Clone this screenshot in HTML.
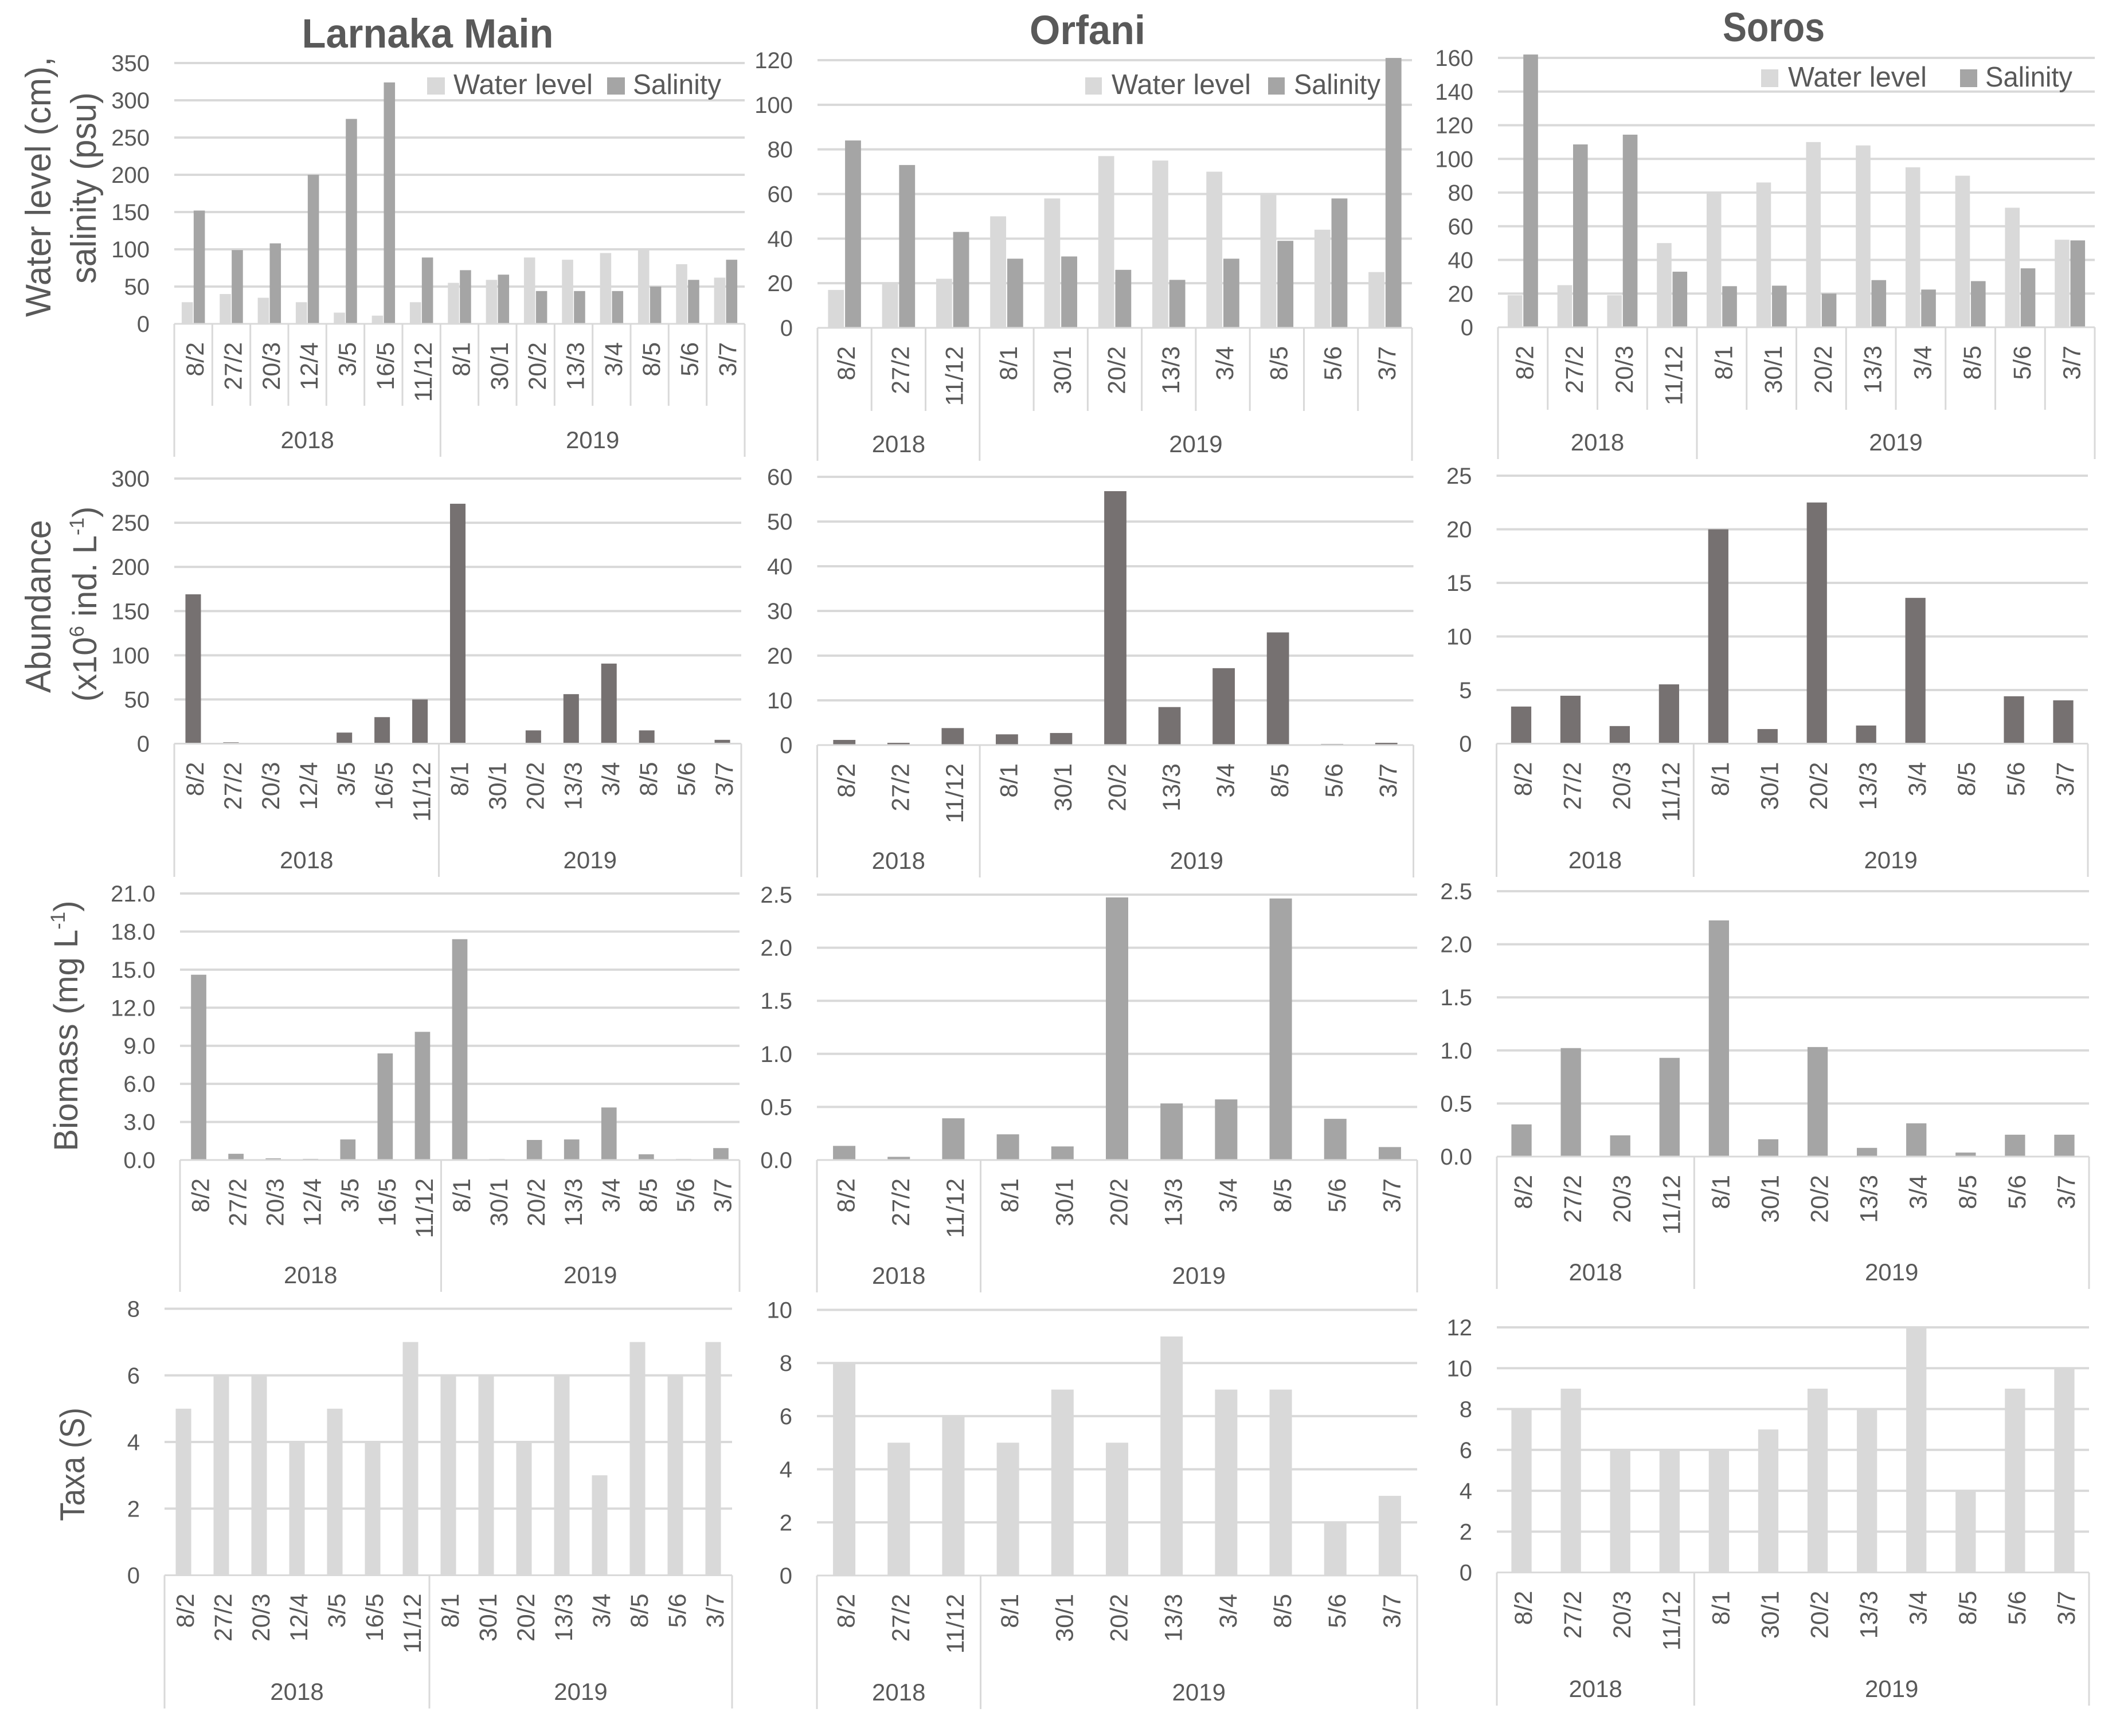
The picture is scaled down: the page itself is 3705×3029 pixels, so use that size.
<!DOCTYPE html>
<html lang="en">
<head>
<meta charset="utf-8">
<title>Larnaka Main, Orfani and Soros time series</title>
<style>
html,body{margin:0;padding:0;background:#fff;}
svg{display:block;}
text{font-family:"Liberation Sans",sans-serif;fill:#595959;}
.panel-title{font-weight:bold;font-size:71px;text-anchor:middle;}
.axis-title{font-size:62px;text-anchor:middle;}
.legend-label{font-size:49px;}
.tick{font-size:40px;text-anchor:end;}
.cat{font-size:43px;text-anchor:end;}
.year{font-size:42px;text-anchor:middle;}
</style>
</head>
<body>
<svg id="chart" xmlns="http://www.w3.org/2000/svg" width="3705" height="3029" viewBox="0 0 3705 3029">
  <rect x="0" y="0" width="3705" height="3029" fill="#ffffff"/>

  <text class="panel-title" x="746" y="83" textLength="439" lengthAdjust="spacingAndGlyphs">Larnaka Main</text>
  <text class="panel-title" x="1897" y="77" textLength="202" lengthAdjust="spacingAndGlyphs">Orfani</text>
  <text class="panel-title" x="3094" y="72" textLength="178" lengthAdjust="spacingAndGlyphs">Soros</text>

  <text class="axis-title" transform="translate(88 326) rotate(-90)" textLength="454" lengthAdjust="spacingAndGlyphs">Water level (cm),</text>
  <text class="axis-title" transform="translate(167 328) rotate(-90)" textLength="334" lengthAdjust="spacingAndGlyphs">salinity (psu)</text>
  <text class="axis-title" transform="translate(88 1058) rotate(-90)" textLength="302" lengthAdjust="spacingAndGlyphs">Abundance</text>
  <text class="axis-title" transform="translate(168 1054) rotate(-90)" style="font-size:58px">(x10<tspan font-size="35" dy="-22">6</tspan><tspan dy="22"> ind. L</tspan><tspan font-size="35" dy="-22">-1</tspan><tspan dy="22">)</tspan></text>
  <text class="axis-title" transform="translate(135 1790) rotate(-90)" style="font-size:58px">Biomass (mg L<tspan font-size="35" dy="-22">-1</tspan><tspan dy="22">)</tspan></text>
  <text class="axis-title" transform="translate(147 2555) rotate(-90)" style="font-size:60px" textLength="198" lengthAdjust="spacingAndGlyphs">Taxa (S)</text>

  <g id="panels"></g>

  <g>
    <rect x="745" y="135" width="31" height="30" fill="#D9D9D9"/>
    <text class="legend-label" x="791" y="164" textLength="243" lengthAdjust="spacingAndGlyphs">Water level</text>
    <rect x="1059" y="135" width="31" height="30" fill="#A5A5A5"/>
    <text class="legend-label" x="1104" y="164" textLength="154" lengthAdjust="spacingAndGlyphs">Salinity</text>
  </g>
  <g>
    <rect x="1893" y="135" width="29" height="30" fill="#D9D9D9"/>
    <text class="legend-label" x="1939" y="164" textLength="243" lengthAdjust="spacingAndGlyphs">Water level</text>
    <rect x="2212" y="135" width="29" height="30" fill="#A5A5A5"/>
    <text class="legend-label" x="2257" y="164" textLength="151" lengthAdjust="spacingAndGlyphs">Salinity</text>
  </g>
  <g>
    <rect x="3072" y="121" width="30" height="31" fill="#D9D9D9"/>
    <text class="legend-label" x="3119" y="151" textLength="242" lengthAdjust="spacingAndGlyphs">Water level</text>
    <rect x="3419" y="121" width="30" height="31" fill="#A5A5A5"/>
    <text class="legend-label" x="3463" y="151" textLength="152" lengthAdjust="spacingAndGlyphs">Salinity</text>
  </g>
</svg>

<script>
// ---------- Categories ----------
const catsLarnaka2018 = ['8/2','27/2','20/3','12/4','3/5','16/5','11/12'];
const catsLarnaka2019 = ['8/1','30/1','20/2','13/3','3/4','8/5','5/6','3/7'];
const catsOrfani2018 = ['8/2','27/2','11/12'];
const catsOrfani2019 = ['8/1','30/1','20/2','13/3','3/4','8/5','5/6','3/7'];
const catsSoros2018 = ['8/2','27/2','20/3','11/12'];
const catsSoros2019 = ['8/1','30/1','20/2','13/3','3/4','8/5','5/6','3/7'];

// ---------- Series values ----------
const waterLarnaka = [29,40,35,29,15,11,29,55,59,89,86,95,100,80,62];
const salinityLarnaka = [152,99,108,200,275,324,89,72,66,44,44,44,50,59,86];
const waterOrfani = [17,20,22,50,58,77,75,70,60,44,25];
const salinityOrfani = [84,73,43,31,32,26,21.5,31,39,58,121];
const waterSoros = [19,25,19,50,80.5,86,110,108,95,90,71,52];
const salinitySoros = [162,108.6,114.4,33,24.4,24.7,20,28,22.4,27.4,35,51.6];

const abundanceLarnaka = [169,1.5,0,0,12.5,30,50,271.5,0,15,56,90.6,15,0,4.3];
const abundanceOrfani = [1.15,0.5,3.8,2.4,2.7,56.8,8.5,17.2,25.2,0.25,0.5];
const abundanceSoros = [3.46,4.47,1.64,5.53,20,1.36,22.5,1.69,13.6,0,4.42,4.04];

const biomassLarnaka = [14.6,0.49,0.13,0.09,1.62,8.4,10.1,17.4,0.08,1.58,1.62,4.14,0.45,0.08,0.94];
const biomassOrfani = [0.133,0.03,0.393,0.242,0.128,2.474,0.533,0.571,2.464,0.388,0.122];
const biomassSoros = [0.303,1.022,0.2,0.93,2.225,0.163,1.032,0.082,0.313,0.038,0.206,0.206];

const taxaLarnaka = [5,6,6,4,5,4,7,6,6,4,6,3,7,6,7];
const taxaOrfani = [8,5,6,5,7,5,9,7,7,2,3];
const taxaSoros = [8,9,6,6,6,7,9,8,12,4,9,10];

// ---------- Tick labels ----------
const ticksWaterLarnaka = ['0','50','100','150','200','250','300','350'];
const ticksWaterOrfani = ['0','20','40','60','80','100','120'];
const ticksWaterSoros = ['0','20','40','60','80','100','120','140','160'];
const ticksAbundanceLarnaka = ['0','50','100','150','200','250','300'];
const ticksAbundanceOrfani = ['0','10','20','30','40','50','60'];
const ticksAbundanceSoros = ['0','5','10','15','20','25'];
const ticksBiomassLarnaka = ['0.0','3.0','6.0','9.0','12.0','15.0','18.0','21.0'];
const ticksBiomassOrfani = ['0.0','0.5','1.0','1.5','2.0','2.5'];
const ticksBiomassSoros = ['0.0','0.5','1.0','1.5','2.0','2.5'];
const ticksTaxaLarnaka = ['0','2','4','6','8'];
const ticksTaxaOrfani = ['0','2','4','6','8','10'];
const ticksTaxaSoros = ['0','2','4','6','8','10','12'];

const yearLabels = ['2018','2019'];

// ---------- Panel definitions (frame = pixel box of the plot area) ----------
const COLOR_WATER = '#D9D9D9', COLOR_SAL = '#A5A5A5', COLOR_AB = '#767171', COLOR_BIO = '#A5A5A5', COLOR_TAXA = '#D9D9D9';

const panels = [
 {id:'water-larnaka', a:catsLarnaka2018, b:catsLarnaka2019, ticks:ticksWaterLarnaka,
  series:[{name:'water-level',values:waterLarnaka,color:COLOR_WATER},{name:'salinity',values:salinityLarnaka,color:COLOR_SAL}],
  frame:{left:304,right:1299,top:110,zero:565,sep:708,bottom:797}},
 {id:'water-orfani', a:catsOrfani2018, b:catsOrfani2019, ticks:ticksWaterOrfani,
  series:[{name:'water-level',values:waterOrfani,color:COLOR_WATER},{name:'salinity',values:salinityOrfani,color:COLOR_SAL}],
  frame:{left:1426,right:2463,top:105,zero:572,sep:717,bottom:804}},
 {id:'water-soros', a:catsSoros2018, b:catsSoros2019, ticks:ticksWaterSoros,
  series:[{name:'water-level',values:waterSoros,color:COLOR_WATER},{name:'salinity',values:salinitySoros,color:COLOR_SAL}],
  frame:{left:2613,right:3654,top:101,zero:571,sep:715,bottom:801}},

 {id:'abundance-larnaka', a:catsLarnaka2018, b:catsLarnaka2019, ticks:ticksAbundanceLarnaka,
  series:[{name:'abundance',values:abundanceLarnaka,color:COLOR_AB}],
  frame:{left:304,right:1293,top:835,zero:1297.5,bottom:1530}},
 {id:'abundance-orfani', a:catsOrfani2018, b:catsOrfani2019, ticks:ticksAbundanceOrfani,
  series:[{name:'abundance',values:abundanceOrfani,color:COLOR_AB}],
  frame:{left:1425.5,right:2465.5,top:832,zero:1300,bottom:1531}},
 {id:'abundance-soros', a:catsSoros2018, b:catsSoros2019, ticks:ticksAbundanceSoros,
  series:[{name:'abundance',values:abundanceSoros,color:COLOR_AB}],
  frame:{left:2610.5,right:3642,top:830,zero:1297.5,bottom:1530}},

 {id:'biomass-larnaka', a:catsLarnaka2018, b:catsLarnaka2019, ticks:ticksBiomassLarnaka,
  series:[{name:'biomass',values:biomassLarnaka,color:COLOR_BIO}],
  frame:{left:314,right:1290,top:1559,zero:2024,bottom:2254}},
 {id:'biomass-orfani', a:catsOrfani2018, b:catsOrfani2019, ticks:ticksBiomassOrfani,
  series:[{name:'biomass',values:biomassOrfani,color:COLOR_BIO}],
  frame:{left:1425,right:2472,top:1561,zero:2024,bottom:2255}},
 {id:'biomass-soros', a:catsSoros2018, b:catsSoros2019, ticks:ticksBiomassSoros,
  series:[{name:'biomass',values:biomassSoros,color:COLOR_BIO}],
  frame:{left:2611,right:3644,top:1555,zero:2018,bottom:2249}},

 {id:'taxa-larnaka', a:catsLarnaka2018, b:catsLarnaka2019, ticks:ticksTaxaLarnaka,
  series:[{name:'taxa',values:taxaLarnaka,color:COLOR_TAXA}],
  frame:{left:287,right:1277,top:2283.5,zero:2748.5,bottom:2981}},
 {id:'taxa-orfani', a:catsOrfani2018, b:catsOrfani2019, ticks:ticksTaxaOrfani,
  series:[{name:'taxa',values:taxaOrfani,color:COLOR_TAXA}],
  frame:{left:1425,right:2472,top:2285.5,zero:2749,bottom:2982}},
 {id:'taxa-soros', a:catsSoros2018, b:catsSoros2019, ticks:ticksTaxaSoros,
  series:[{name:'taxa',values:taxaSoros,color:COLOR_TAXA}],
  frame:{left:2611,right:3644,top:2316,zero:2743.6,bottom:2976}}
];

const SVGNS = 'http://www.w3.org/2000/svg';
const GRID = '#D9D9D9';
const root = document.getElementById('panels');

function line(parent, x1, y1, x2, y2, w) {
  const l = document.createElementNS(SVGNS, 'line');
  l.setAttribute('x1', x1);
  l.setAttribute('y1', y1);
  l.setAttribute('x2', x2);
  l.setAttribute('y2', y2);
  l.setAttribute('stroke', GRID);
  l.setAttribute('stroke-width', w);
  parent.appendChild(l);
  return l;
}

function label(parent, cls, x, y, str) {
  const t = document.createElementNS(SVGNS, 'text');
  t.setAttribute('class', cls);
  t.setAttribute('x', x);
  t.setAttribute('y', y);
  t.textContent = str;
  parent.appendChild(t);
  return t;
}

panels.forEach(function (p) {
  const f = p.frame;
  const cats = p.a.concat(p.b);
  const tickVals = p.ticks.map(Number);
  const yMax = tickVals[tickVals.length - 1];
  const band = (f.right - f.left) / cats.length;
  const xEdge = function (i) { return f.left + band * i; };
  const xCenter = function (i) { return f.left + band * (i + 0.5); };
  const yScale = function (v) { return f.zero - (v / yMax) * (f.zero - f.top); };

  const g = document.createElementNS(SVGNS, 'g');
  
  
  root.appendChild(g);

  // gridlines + y tick labels
  tickVals.forEach(function (v, i) {
    if (v !== 0) {
      const gl = line(g, f.left, yScale(v), f.right, yScale(v), 4);
      
      
    }
    const t = label(g, 'tick', f.left - 43, yScale(v) + 14, p.ticks[i]);
    
    
  });

  // bars
  const n = p.series.length;
  const barW = n === 2 ? band * 0.295 : band * 0.41;
  const gap = n === 2 ? band * 0.02 : 0;
  p.series.forEach(function (s, si) {
    s.values.forEach(function (v, i) {
      const cx = xCenter(i);
      const x = n === 2 ? (si === 0 ? cx - barW - gap / 2 : cx + gap / 2) : cx - barW / 2;
      const y = yScale(v);
      const r = document.createElementNS(SVGNS, 'rect');
      r.setAttribute('x', x);
      r.setAttribute('y', y);
      r.setAttribute('width', barW);
      r.setAttribute('height', Math.max(0, f.zero - y));
      r.setAttribute('fill', s.color);
      
      
      g.appendChild(r);
    });
  });

  // x axis line
  const ax = line(g, f.left, f.zero, f.right, f.zero, 3);
  
  

  // category separators (only the top row draws inner ones)
  const splitIndex = p.a.length;
  for (let i = 0; i <= cats.length; i++) {
    const outer = i === 0 || i === cats.length || i === splitIndex;
    if (!outer && !f.sep) continue;
    const sl = line(g, xEdge(i), f.zero, xEdge(i), outer ? f.bottom : f.sep, 3);
    
    
  }

  // category labels
  cats.forEach(function (c, i) {
    const tx = xCenter(i) + 18;
    const ty = f.zero + 32;
    const t = label(g, 'cat', tx, ty, c);
    t.setAttribute('transform', 'rotate(-90 ' + tx + ' ' + ty + ')');
    
    
  });

  // year labels
  const y1 = label(g, 'year', (xEdge(0) + xEdge(splitIndex)) / 2, f.bottom - 15, yearLabels[0]);
  
  
  const y2 = label(g, 'year', (xEdge(splitIndex) + xEdge(cats.length)) / 2, f.bottom - 15, yearLabels[1]);
  
  
});
</script>
</body>
</html>
